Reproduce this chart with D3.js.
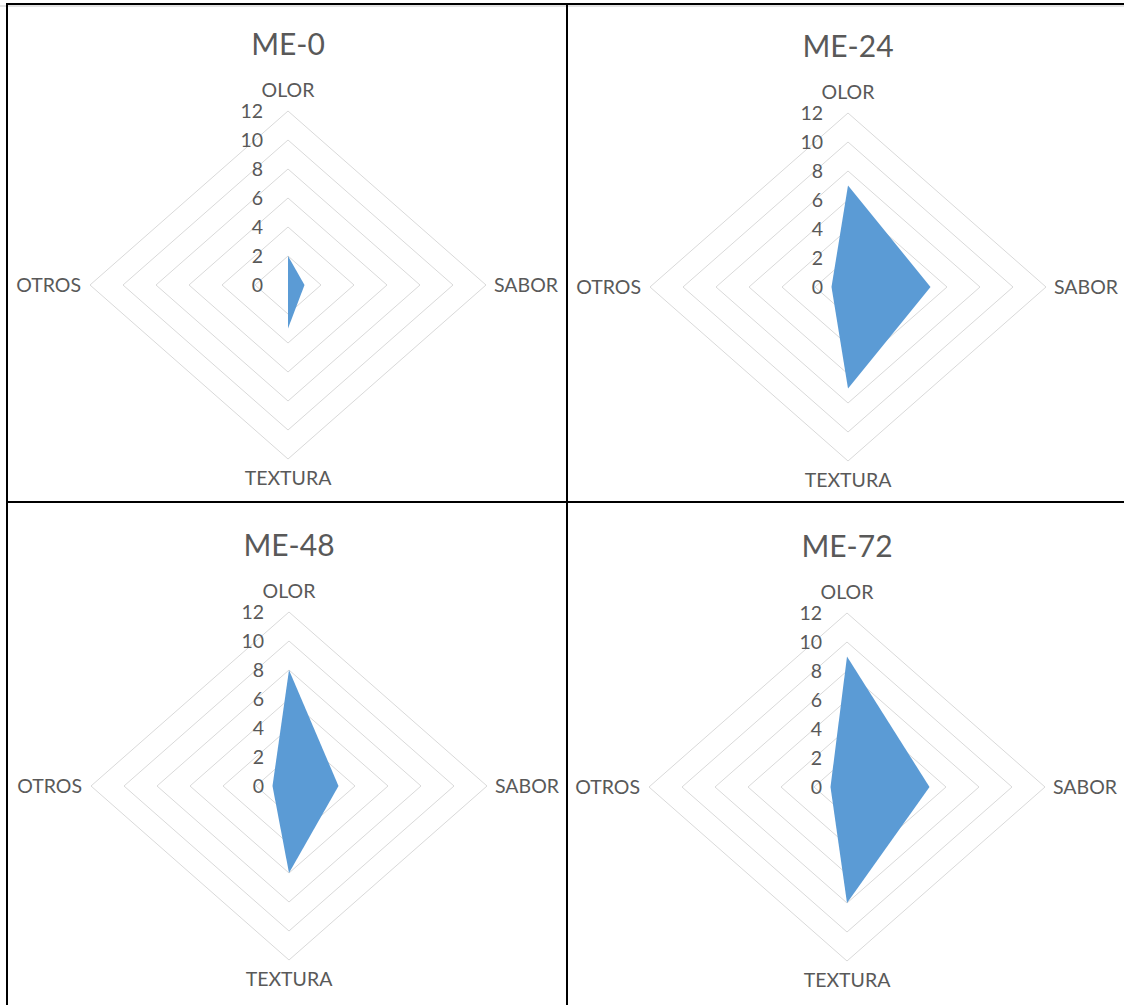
<!DOCTYPE html>
<html>
<head>
<meta charset="utf-8">
<script src="https://cdn.jsdelivr.net/npm/d3@7"></script>
<style>
  html, body { margin: 0; padding: 0; background: #ffffff; }
  svg { display: block; }
  text { font-family: Lato, "Open Sans", sans-serif; fill: #595959; }
</style>
</head>
<body>
<svg id="chart" width="1124" height="1005"></svg>
<script>
// Sensory attributes on the radar axes (clockwise from the top)
const categories = ["OLOR", "SABOR", "TEXTURA", "OTROS"];
// One radar per sample
const panelTitles = ["ME-0", "ME-24", "ME-48", "ME-72"];
// Scores per attribute, same order as categories
const me0  = [2, 1, 3, 0];
const me24 = [7, 5, 7, 1];
const me48 = [8, 3, 6, 1];
const me72 = [9, 5, 8, 1];
// Value axis ticks
const tickValues = [0, 2, 4, 6, 8, 10, 12];

const seriesList = [me0, me24, me48, me72];

// Panel placement: chart centre of each radar
const panelCenters = [
  { cx: 288, cy: 285 },
  { cx: 848, cy: 287 },
  { cx: 289, cy: 786 },
  { cx: 847, cy: 787 }
];
const titleOffset = -230;   // title baseline relative to centre
const RX = 198, RY = 174;   // plot radii (horizontal / vertical)

const svg = d3.select("#chart");

const rX = d3.scaleLinear().domain([0, 12]).range([0, RX]);
const rY = d3.scaleLinear().domain([0, 12]).range([0, RY]);
const angle = d3.scalePoint().domain(categories).range([0, 2 * Math.PI * 3 / 4]);

function pt(cat, v) {
  const a = angle(cat);
  return [Math.sin(a) * rX(v), -Math.cos(a) * rY(v)];
}

const line = d3.line();

seriesList.forEach((series, i) => {
  const { cx, cy } = panelCenters[i];
  const g = svg.append("g").attr("transform", `translate(${cx},${cy})`);

  // Title
  g.append("text")
    .attr("x", 0).attr("y", titleOffset)
    .attr("text-anchor", "middle")
    .attr("font-size", 30)
    .text(panelTitles[i]);

  // Gridline diamonds at every tick (except 0)
  g.selectAll("path.grid")
    .data(tickValues.filter(t => t > 0))
    .join("path")
    .attr("class", "grid")
    .attr("d", t => line(categories.map(c => pt(c, t))) + "Z")
    .attr("fill", "none")
    .attr("stroke", "#d9d9d9")
    .attr("stroke-width", 1);

  // Data area
  g.append("path")
    .attr("d", line(categories.map((c, k) => pt(c, series[k]))) + "Z")
    .attr("fill", "#5b9bd5")
    .attr("stroke", "none");

  // Value axis labels
  g.selectAll("text.tick")
    .data(tickValues)
    .join("text")
    .attr("class", "tick")
    .attr("x", -25)
    .attr("y", t => -rY(t))
    .attr("dy", "0.36em")
    .attr("text-anchor", "end")
    .attr("font-size", 19.5)
    .text(t => t);

  // Category labels
  const labelPos = {
    OLOR:    { x: 0,    y: -rY(12) - 21, anchor: "middle" },
    SABOR:   { x: rX(12) + 8, y: 0, anchor: "start" },
    TEXTURA: { x: 0,    y: rY(12) + 19, anchor: "middle" },
    OTROS:   { x: -rX(12) - 9, y: 0, anchor: "end" }
  };
  g.selectAll("text.cat")
    .data(categories)
    .join("text")
    .attr("class", "cat")
    .attr("x", c => labelPos[c].x)
    .attr("y", c => labelPos[c].y)
    .attr("dy", "0.36em")
    .attr("text-anchor", c => labelPos[c].anchor)
    .attr("font-size", 19.5)
    .text(c => c);
});

// Panel frame lines
const frame = svg.append("g").attr("stroke", "#000").attr("stroke-width", 2);
frame.append("line").attr("x1", 0).attr("x2", 1124).attr("y1", 6).attr("y2", 6)
  .attr("stroke", "#e3e3e3").attr("stroke-width", 2);
frame.append("line").attr("x1", 6).attr("x2", 1124).attr("y1", 4).attr("y2", 4);
frame.append("line").attr("x1", 7).attr("x2", 7).attr("y1", 3).attr("y2", 1005);
frame.append("line").attr("x1", 567).attr("x2", 567).attr("y1", 3).attr("y2", 1005);
frame.append("line").attr("x1", 6).attr("x2", 1124).attr("y1", 502).attr("y2", 502);
</script>
</body>
</html>
